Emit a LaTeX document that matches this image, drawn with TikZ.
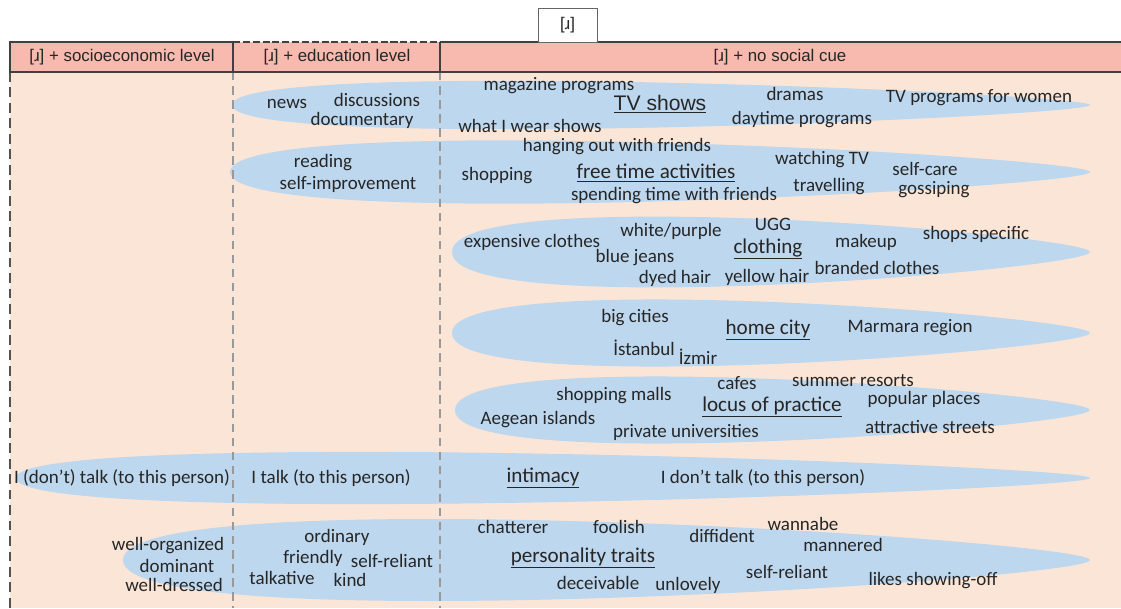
\documentclass[tikz,border=0pt]{standalone}
\usepackage{fontspec}
\setmainfont{Carlito}
\newfontfamily\hdrfont{Liberation Sans}
\usepackage{xcolor}
\definecolor{hdrpink}{HTML}{F8B9AF}
\definecolor{bodypeach}{HTML}{FBE5D6}
\definecolor{blobblue}{HTML}{BDD7EE}
\definecolor{framegray}{HTML}{404040}
\newcommand{\blob}[4]{%
  \fill[blobblue] (#1,#3) .. controls (#1,{#3-1.85*#4}) and (#2,{#3-0.45*#4}) .. (#2,#3)
    .. controls (#2,{#3+0.45*#4}) and (#1,{#3+1.85*#4}) .. cycle;}

\begin{document}
\begin{tikzpicture}[x=0.025cm, y=-0.025cm,
  every node/.style={inner sep=0pt, text=black!85, font=\fontsize{13.5}{15}\selectfont},
  topic/.style={font=\fontsize{15}{17}\selectfont},
  hdr/.style={font=\hdrfont\fontsize{12}{14}\selectfont},
  frame/.style={draw=framegray, line width=1.4pt},
  divider/.style={draw=black!40, line width=1pt, dash pattern=on 6pt off 4pt}]
\useasboundingbox (0,0) rectangle (1121,608);
\fill[bodypeach] (10,72) rectangle (1121,608);
\fill[hdrpink] (10,42) rectangle (1121,72);

\blob{232}{1090}{105}{26}
\blob{230}{1090}{172}{34}
\blob{452}{1090}{252}{38}
\blob{452}{1090}{333}{36}
\blob{455}{1090}{410}{36}
\blob{16}{1090}{478}{28}
\blob{123}{1090}{560}{44}

\draw[divider] (233,72) -- (233,608);
\draw[divider] (440,72) -- (440,608);
\draw[draw=framegray!90, line width=2pt, dash pattern=on 7pt off 4pt] (10,72) -- (10,608);
\draw[frame] (233,42) -- (10,42) -- (10,72) -- (1121,72);
\draw[frame] (440,42) -- (1121,42);
\draw[frame] (233,42) -- (233,72);
\draw[frame] (440,42) -- (440,72);
\draw[frame, dash pattern=on 5pt off 2pt] (233,42) -- (440,42);

\node[hdr, draw=framegray!80, thin, fill=white, minimum width=1.475cm, minimum height=0.85cm] (tag) at (567.5,25) {[ɹ]};
\node[hdr] (hsoc) at (122,57) {[ɹ] + socioeconomic level};
\node[hdr] (hedu) at (337,57) {[ɹ] + education level};
\node[hdr] (hnone) at (780,57) {[ɹ] + no social cue};

\node (magprog) at (559,86) {magazine programs};
\node[topic, font=\hdrfont\fontsize{15}{17}\selectfont] (tv) at (660,104) {\underline{TV shows}};
\node (dramas) at (795,94) {dramas};
\node (women) at (979,98) {TV programs for women};
\node (news) at (287,104) {news};
\node (discuss) at (377,100) {discussions};
\node (docu) at (362,120) {documentary};
\node (wear) at (530,126) {what I wear shows};
\node (daytime) at (802,120) {daytime programs};

\node (hanging) at (617,147) {hanging out with friends};
\node (reading) at (323,163) {reading};
\node (selfimp) at (348,184) {self-improvement};
\node (shopping) at (497,176) {shopping};
\node[topic] (free) at (656,173) {\underline{free time activities}};
\node (watching) at (822,160) {watching TV};
\node (selfcare) at (925,169) {self-care};
\node (spending) at (674,196) {spending time with friends};
\node (travel) at (829,187) {travelling};
\node (gossip) at (934,190) {gossiping};

\node (ugg) at (773,224) {UGG};
\node (whitepurple) at (671,231) {white/purple};
\node (shops) at (976,234) {shops specific};
\node (expensive) at (532,242) {expensive clothes};
\node (makeup) at (866,242) {makeup};
\node[topic] (clothing) at (768,249) {\underline{clothing}};
\node (jeans) at (635,258) {blue jeans};
\node (branded) at (877,268) {branded clothes};
\node (dyed) at (675,278) {dyed hair};
\node (yellow) at (767,277) {yellow hair};

\node (bigcities) at (635,318) {big cities};
\node[topic] (home) at (768,330) {\underline{home city}};
\node (marmara) at (910,328) {Marmara region};
\node (istanbul) at (644,348) {İstanbul};
\node (izmir) at (698,357) {İzmir};

\node (cafes) at (737,383) {cafes};
\node (resorts) at (853,381) {summer resorts};
\node (malls) at (614,396) {shopping malls};
\node[topic] (locus) at (772,407) {\underline{locus of practice}};
\node (popular) at (924,399) {popular places};
\node (aegean) at (538,420) {Aegean islands};
\node (univ) at (686,432) {private universities};
\node (streets) at (930,427) {attractive streets};

\node (dontsoc) at (122,478) {I (don’t) talk (to this person)};
\node (talkedu) at (331,478) {I talk (to this person)};
\node[topic] (intimacy) at (543,478) {\underline{intimacy}};
\node (donttalk) at (763,478) {I don’t talk (to this person)};

\node (chatterer) at (513,527) {chatterer};
\node (foolish) at (619,527) {foolish};
\node (diffident) at (722,536) {diffident};
\node (wannabe) at (803,524) {wannabe};
\node (mannered) at (843,545) {mannered};
\node[topic] (traits) at (583,558) {\underline{personality traits}};
\node (ordinary) at (337,537) {ordinary};
\node (organized) at (168,546) {well-organized};
\node (friendly) at (313,558) {friendly};
\node (reliantedu) at (392,561) {self-reliant};
\node (dominant) at (177,566) {dominant};
\node (talkative) at (282,578) {talkative};
\node (kind) at (350,580) {kind};
\node (dressed) at (174,585) {well-dressed};
\node (deceivable) at (598,583) {deceivable};
\node (unlovely) at (688,585) {unlovely};
\node (reliant) at (787,572) {self-reliant};
\node (showoff) at (933,581) {likes showing-off};
\end{tikzpicture}
\end{document}
